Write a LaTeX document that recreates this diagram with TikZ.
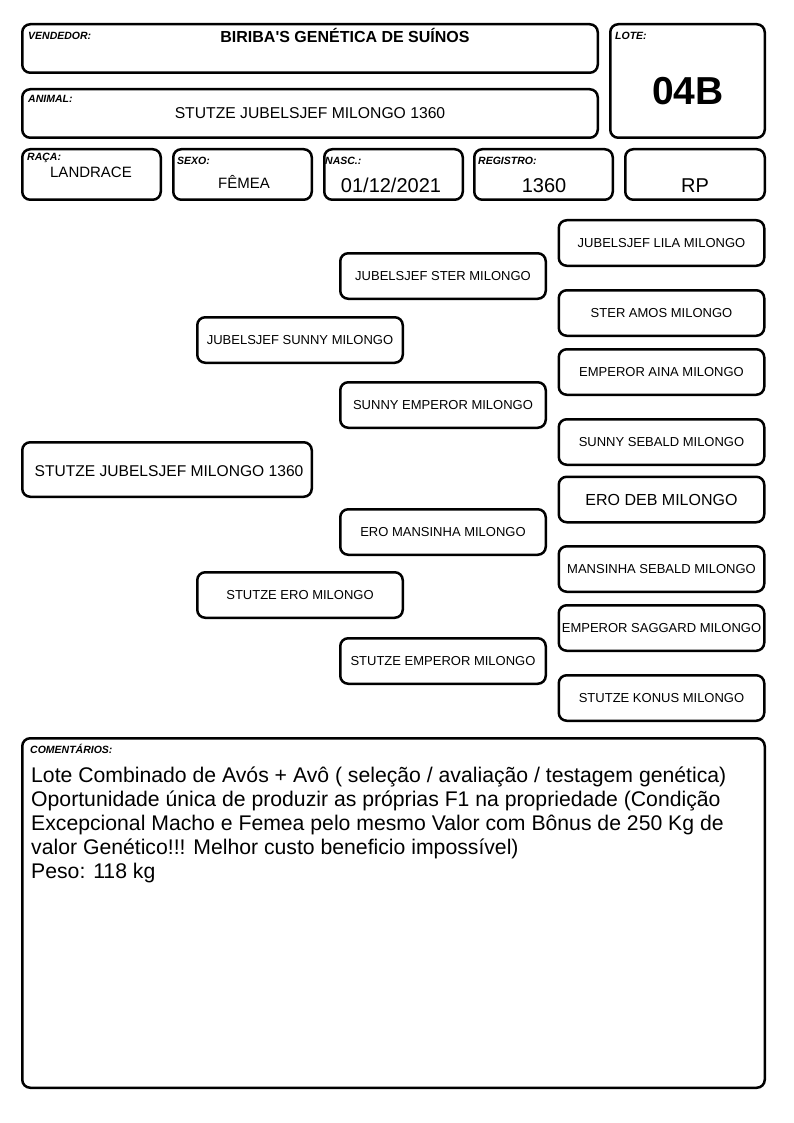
\documentclass[tikz,border=0pt]{standalone}
\usepackage{fontspec}
\setmainfont{Liberation Sans}[Ligatures=TeXOff]
\newcommand{\fsz}[1]{\fontsize{#1}{#1}\selectfont}
\begin{document}
\begin{tikzpicture}[x=1pt,y=-1pt,
	box/.style={draw,line width=2.5pt,rounded corners=8pt,inner sep=0pt},
	tag/.style={anchor=base west,inner sep=0pt,font=\fsz{10.5}\bfseries\itshape},
	val/.style={anchor=base,inner sep=0pt},
	pig/.style={box,minimum width=205.5pt,minimum height=45.5pt}]

	\useasboundingbox (0,0) rectangle (794,1123);

	% header
	\node[box,minimum width=575.5pt,minimum height=48.5pt] (vendedor) at (310,48.5) {};
	\node[box,minimum width=575.5pt,minimum height=48.5pt] (animal) at (310,113.5) {};
	\node[box,minimum width=154.5pt,minimum height=113.5pt] (lote) at (687.5,81) {};
	\node[box,minimum width=138.5pt,minimum height=50.5pt] (raca) at (91.5,174.5) {};
	\node[box,minimum width=138.5pt,minimum height=50.5pt] (sexo) at (242.5,174.5) {};
	\node[box,minimum width=138.5pt,minimum height=50.5pt] (nasc) at (393.5,174.5) {};
	\node[box,minimum width=138.5pt,minimum height=50.5pt] (registro) at (543.5,174.5) {};
	\node[box,minimum width=139.5pt,minimum height=50.5pt] (rp) at (695,174.5) {};

	\node[tag] (tvend) at (28,39.5) {VENDEDOR:};
	\node[tag] (tanim) at (28,103) {ANIMAL:};
	\node[tag] (tlote) at (615,39.5) {LOTE:};
	\node[tag] (traca) at (27,161) {RAÇA:};
	\node[tag] (tsexo) at (177,165) {SEXO:};
	\node[tag] (tnasc) at (325,165) {NASC.:};
	\node[tag] (treg) at (478,165) {REGISTRO:};

	\node[val,font=\fsz{16}\bfseries] (vvend) at (345,43) {BIRIBA'S GENÉTICA DE SUÍNOS};
	\node[val,font=\fsz{15.7}] (vanim) at (310,119) {STUTZE JUBELSJEF MILONGO 1360};
	\node[val,font=\fsz{39}\bfseries] (vlote) at (688,105) {04B};
	\node[val,font=\fsz{15}] (vraca) at (91,178) {LANDRACE};
	\node[val,font=\fsz{15}] (vsexo) at (244,189) {FÊMEA};
	\node[val,font=\fsz{20}] (vnasc) at (391,193) {01/12/2021};
	\node[val,font=\fsz{20}] (vreg) at (544,193) {1360};
	\node[val,font=\fsz{20}] (vrp) at (695,193) {RP};

	% pedigree
	\node[box,minimum width=289.5pt,minimum height=54.5pt,font=\fsz{15.6}] (p0) at (167,469.5) {};
	\node[val,font=\fsz{15.6}] (v0) at (169,476) {STUTZE JUBELSJEF MILONGO 1360};
	\node[pig,font=\fsz{13}] (p1) at (300,340) {JUBELSJEF SUNNY MILONGO};
	\node[pig,font=\fsz{13}] (p2) at (300,595) {STUTZE ERO MILONGO};

	\foreach \i/\y/\txt in {
	1/276/JUBELSJEF STER MILONGO,
	2/405/SUNNY EMPEROR MILONGO,
	3/532/ERO MANSINHA MILONGO,
	4/661/STUTZE EMPEROR MILONGO}
	{
		\node[pig,font=\fsz{13}] (g2\i) at (443,\y) {\txt};
	};

	\foreach \i/\y/\s/\txt in {
	1/243/13/JUBELSJEF LILA MILONGO,
	2/313/13/STER AMOS MILONGO,
	3/372/13/EMPEROR AINA MILONGO,
	4/442/13/SUNNY SEBALD MILONGO,
	5/499.5/16/ERO DEB MILONGO,
	6/569/13/MANSINHA SEBALD MILONGO,
	7/628/13/EMPEROR SAGGARD MILONGO,
	8/698/13/STUTZE KONUS MILONGO}
	{
		\node[pig,font=\fsz{\s}] (g3\i) at (661.5,\y) {\txt};
	};

	% comments
	\node[box,minimum width=742.5pt,minimum height=349.5pt] (coment) at (393.5,913) {};
	\node[tag] (tcom) at (30,753) {COMENTÁRIOS:};
	\node[anchor=north west,inner sep=0pt,align=left,font=\fontsize{21.2}{24}\selectfont] (vcom) at (31,767) {Lote Combinado de Avós + Avô ( seleção / avaliação / testagem genética)\\
	Oportunidade única de produzir as próprias F1 na propriedade (Condição\\
	Excepcional Macho e Femea pelo mesmo Valor com Bônus de 250 Kg de\\
	valor Genético!!! Melhor custo beneficio impossível)\\
	Peso: 118 kg};
\end{tikzpicture}
\end{document}
